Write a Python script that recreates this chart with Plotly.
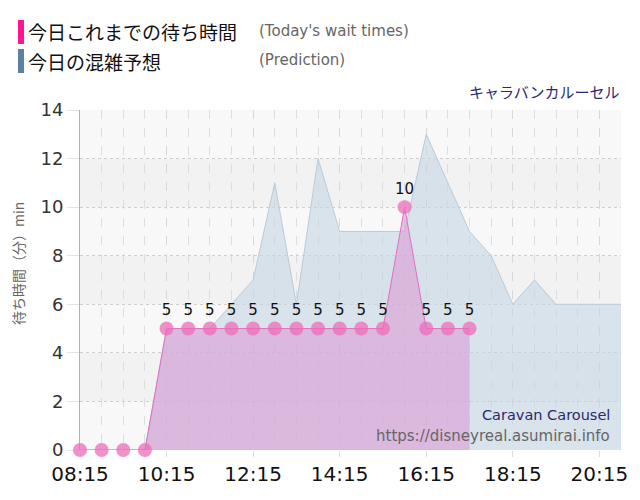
import plotly.graph_objects as go

times = ["08:15","08:45","09:15","09:45","10:15","10:45","11:15","11:45","12:15","12:45",
         "13:15","13:45","14:15","14:45","15:15","15:45","16:15","16:45","17:15","17:45",
         "18:15","18:45","19:15","19:45","20:15","20:45"]
wait_times = ["08:15","08:45","09:15","09:45","10:15","10:45","11:15","11:45","12:15","12:45",
              "13:15","13:45","14:15","14:45","15:15","15:45","16:15","16:45","17:15"]
wait_values = [0,0,0,0,5,5,5,5,5,5,5,5,5,5,5,10,5,5,5]
wait_labels = ["","","","","5","5","5","5","5","5","5","5","5","5","5","10","5","5","5"]
pred_values = [0,0,0,0,5,5,5,6,7,11,6,12,9,9,9,9,13,11,9,8,6,7,6,6,6,6]
x_ticks = ["08:15","10:15","12:15","14:15","16:15","18:15","20:15"]

day = "2024-01-01 "
xp = [day + t for t in times]
xw = [day + t for t in wait_times]

fig = go.Figure()
fig.add_trace(go.Scatter(
    x=xp, y=pred_values, mode="lines", fill="tozeroy",
    line=dict(color="#bccbd8", width=1), fillcolor="rgba(196,213,226,0.6)",
    hoverinfo="skip", showlegend=False))
fig.add_trace(go.Scatter(
    x=xw, y=wait_values, mode="lines+markers+text", fill="tozeroy",
    line=dict(color="#e070c0", width=1), fillcolor="rgba(220,150,210,0.55)",
    marker=dict(size=14, color="rgba(236,110,185,0.75)"),
    text=wait_labels, textposition="top center",
    textfont=dict(family="DejaVu Sans", size=15, color="#111"),
    cliponaxis=False, showlegend=False))

shapes = []
for i, (y0, y1) in enumerate([(0,2),(2,4),(4,6),(6,8),(8,10),(10,12),(12,14)]):
    shapes.append(dict(type="rect", xref="paper", yref="y", x0=0, x1=1, y0=y0, y1=y1,
                       fillcolor="#f8f8f8" if i % 2 == 0 else "#f2f2f2",
                       line=dict(width=0), layer="below"))
# legend bars (pixels relative to plot: plot left=80, top=110, width 541, height 340)
W, H = 541.0, 340.0
def px(x): return (x - 80) / W
def py(y): return (450 - y) / H
shapes.append(dict(type="rect", xref="paper", yref="paper", x0=px(18), x1=px(24),
                   y0=py(44), y1=py(20), fillcolor="#ff1493", line=dict(width=0)))
shapes.append(dict(type="rect", xref="paper", yref="paper", x0=px(18), x1=px(24),
                   y0=py(73), y1=py(49), fillcolor="#5b80a8", line=dict(width=0)))

fig.update_layout(
    width=640, height=500,
    margin=dict(l=72, r=27, t=102, b=58),
    paper_bgcolor="white", plot_bgcolor="#f8f8f8",
    shapes=shapes,
    font=dict(family="DejaVu Sans, Noto Sans CJK JP"),
    xaxis=dict(type="date", range=[day + "08:15", day + "20:45"],
               tickvals=[day + t for t in x_ticks], ticktext=x_ticks,
               tickfont=dict(family="DejaVu Sans", size=20, color="#111"),
               showgrid=True, gridcolor="#d8d8d8", griddash="dash", gridwidth=1,
               minor=dict(dtick=30*60*1000, tick0=day + "08:15", showgrid=True,
                          gridcolor="#dedede", griddash="dash"),
               ticks="outside", ticklen=6, tickcolor="#dddddd",
               showline=False, zeroline=False, layer="below traces"),
    yaxis=dict(range=[0, 14], dtick=2,
               tickfont=dict(family="DejaVu Sans", size=18, color="#333"),
               showgrid=True, gridcolor="#cfcfcf", griddash="dot",
               ticks="outside", ticklen=12, tickcolor="#e4e4e4",
               showline=True, linecolor="#b0b0b8", linewidth=1,
               zeroline=False, layer="below traces"),
    annotations=[
        dict(text="今日これまでの待ち時間", xref="paper", yref="paper", x=px(26), y=py(32),
             xanchor="left", yanchor="middle", showarrow=False,
             font=dict(family="Noto Sans CJK JP", size=19, color="#111")),
        dict(text="(Today's wait times)", xref="paper", yref="paper", x=px(257), y=py(31),
             xanchor="left", yanchor="middle", showarrow=False,
             font=dict(family="DejaVu Sans", size=15, color="#666")),
        dict(text="今日の混雑予想", xref="paper", yref="paper", x=px(26), y=py(61),
             xanchor="left", yanchor="middle", showarrow=False,
             font=dict(family="Noto Sans CJK JP", size=19, color="#111")),
        dict(text="(Prediction)", xref="paper", yref="paper", x=px(257), y=py(60),
             xanchor="left", yanchor="middle", showarrow=False,
             font=dict(family="DejaVu Sans", size=15, color="#666")),
        dict(text="キャラバンカルーセル", xref="paper", yref="paper", x=px(622), y=py(91),
             xanchor="right", yanchor="middle", showarrow=False,
             font=dict(family="Noto Sans CJK JP", size=15, color="#2a2a6e")),
        dict(text="Caravan Carousel", xref="paper", yref="paper", x=px(612), y=py(415),
             xanchor="right", yanchor="middle", showarrow=False,
             font=dict(family="DejaVu Sans", size=14.5, color="#2a2a6e")),
        dict(text="https://disneyreal.asumirai.info", xref="paper", yref="paper", x=px(612), y=py(436),
             xanchor="right", yanchor="middle", showarrow=False,
             font=dict(family="DejaVu Sans", size=15, color="#666")),
        dict(text="待ち時間（分）min", xref="paper", yref="paper", x=px(18), y=py(264),
             xanchor="center", yanchor="middle", textangle=-90, showarrow=False,
             font=dict(family="Noto Sans CJK JP", size=14, color="#666")),
    ],
)

fig.write_html("out.html")
